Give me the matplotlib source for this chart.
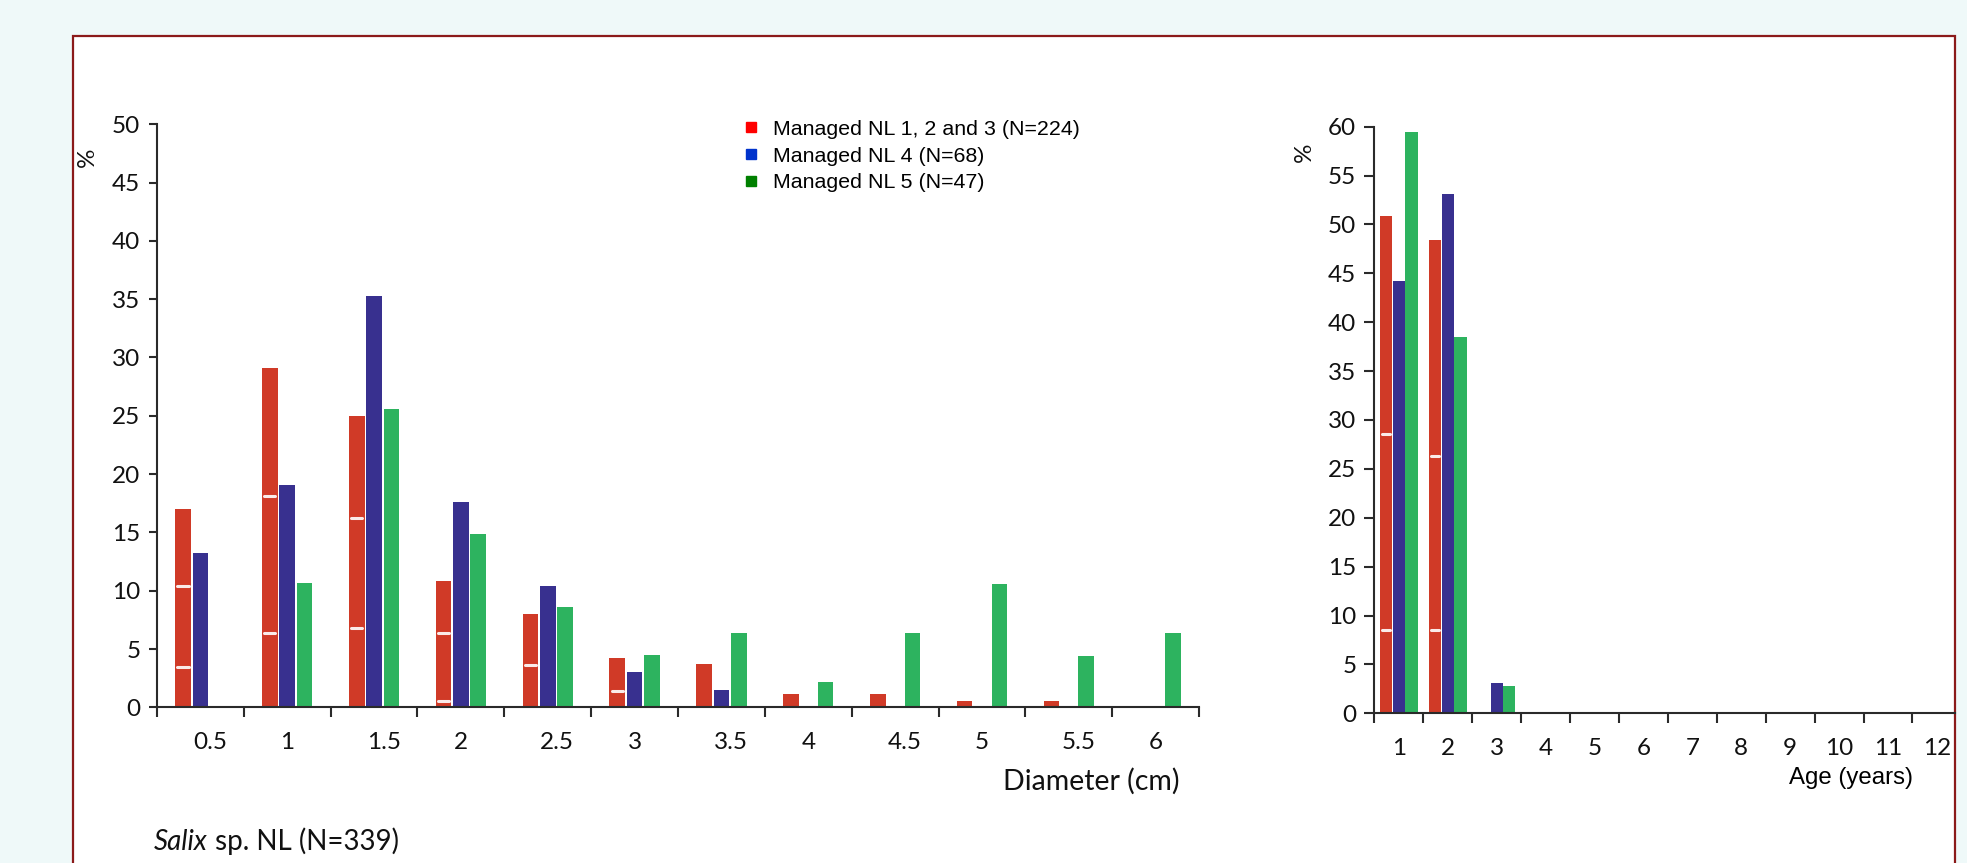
import numpy as np
import matplotlib.pyplot as plt
from matplotlib.lines import Line2D
from matplotlib.patches import Rectangle

plt.rcParams['font.family'] = ['Lato', 'DejaVu Sans']

# stem diameter classes (cm), percent of stems per site group
diam_labels = ["0.5", "1", "1.5", "2", "2.5", "3", "3.5", "4", "4.5", "5", "5.5", "6"]
diam_nl123 = [17.0, 29.1, 25.0, 10.8, 8.0, 4.2, 3.7, 1.1, 1.1, 0.5, 0.5, 0.0]
diam_nl4 = [13.2, 19.1, 35.3, 17.6, 10.4, 3.0, 1.5, 0.0, 0.0, 0.0, 0.0, 0.0]
diam_nl5 = [0.0, 10.7, 25.6, 14.9, 8.6, 4.5, 6.4, 2.2, 6.4, 10.6, 4.4, 6.4]
# cumulative heights where the NL 1 / 2 / 3 parts of the red bar meet
diam_splits = [[3.5, 10.4], [6.4, 18.1], [6.8, 16.2], [0.5, 6.4], [3.6], [1.4],
               [], [], [], [], [], []]

# stem age (years)
age_labels = [str(a) for a in range(1, 13)]
age_nl123 = [50.9, 48.4, 0, 0, 0, 0, 0, 0, 0, 0, 0, 0]
age_nl4 = [44.2, 53.1, 3.1, 0, 0, 0, 0, 0, 0, 0, 0, 0]
age_nl5 = [59.5, 38.5, 2.8, 0, 0, 0, 0, 0, 0, 0, 0, 0]
age_splits = [[8.5, 28.6], [8.5, 26.3], [], [], [], [], [], [], [], [], [], []]

series_names = ["Managed NL 1, 2 and 3 (N=224)", "Managed NL 4 (N=68)", "Managed NL 5 (N=47)"]
bar_colors = ["#d03a27", "#38308f", "#2db35f"]
key_colors = ["#ff0000", "#0033cc", "#008000"]

AXIS_COLOR = "#2a2a2a"
TEXT_COLOR = "#111111"

fig = plt.figure(figsize=(19.67, 8.63), dpi=100, facecolor="#eff9f9")

# white panel with dark red frame
fig.add_artist(Rectangle((0.0371, -0.02), 0.9568, 0.9783, transform=fig.transFigure,
                         facecolor="white", edgecolor="#8b1a1a", lw=1.6, zorder=0))


def draw_panel(ax, centers, groups, splits, pitch, width, ylim, ystep):
    for k, (vals, col) in enumerate(zip(groups, bar_colors)):
        xs = centers + (k - 1) * pitch
        h = np.array(vals, dtype=float)
        ax.bar(xs[h > 0], h[h > 0], width=width, color=col, edgecolor="none", zorder=2)
    # separators inside the red bars
    for c, marks in zip(centers, splits):
        x0 = c - pitch
        for m in marks:
            ax.plot([x0 - width * 0.36, x0 + width * 0.36], [m, m], color="white",
                    lw=2.2, solid_capstyle="round", alpha=0.9, zorder=3)
    ax.set_ylim(*ylim)
    ax.set_yticks(np.arange(ylim[0], ylim[1] + 0.1, ystep))
    ax.spines[["top", "right"]].set_visible(False)
    for s in ("left", "bottom"):
        ax.spines[s].set_color(AXIS_COLOR)
        ax.spines[s].set_linewidth(1.5)
    ax.set_facecolor("none")
    ax.tick_params(axis="both", which="major", direction="out", color=AXIS_COLOR,
                   width=1.5, labelsize=17.5, labelcolor=TEXT_COLOR)
    ax.tick_params(axis="y", length=6, pad=6)
    ax.tick_params(axis="x", which="major", length=7, labelbottom=False)
    ax.tick_params(axis="x", which="minor", length=0, pad=17.5, labelsize=17.5,
                   labelcolor=TEXT_COLOR)


# diameter distribution
ax1 = fig.add_axes([0.0798, 0.1804, 0.5298, 0.6756])
d_centers = np.arange(len(diam_labels), dtype=float)
draw_panel(ax1, d_centers, [diam_nl123, diam_nl4, diam_nl5], diam_splits,
           pitch=0.2, width=0.18, ylim=(0, 50), ystep=5)
ax1.set_xlim(-0.5, len(diam_labels) - 0.5)
ax1.set_xticks(np.arange(-0.5, len(diam_labels)), minor=False)
ax1.set_xticks(d_centers + np.array([0.11 if "." in s else 0 for s in diam_labels]),
               diam_labels, minor=True)
ax1.text(-0.067, 0.944, "%", rotation=90, ha="center", va="center", fontsize=17.5,
         color=TEXT_COLOR, transform=ax1.transAxes)

# age distribution
ax2 = fig.add_axes([0.6987, 0.1735, 0.2952, 0.6797])
a_centers = np.arange(1, len(age_labels) + 1, dtype=float)
draw_panel(ax2, a_centers, [age_nl123, age_nl4, age_nl5], age_splits,
           pitch=0.26, width=0.25, ylim=(0, 60), ystep=5)
ax2.set_xlim(0.5, 12.37)
ax2.set_xticks(np.arange(0.5, 12.0, 1), minor=False)
ax2.set_xticks(a_centers, age_labels, minor=True)
ax2.tick_params(axis="y", length=7)
ax2.tick_params(axis="x", which="minor", pad=18)
ax2.text(-0.121, 0.957, "%", rotation=90, ha="center", va="center", fontsize=17.5,
         color=TEXT_COLOR, transform=ax2.transAxes)

fig.text(0.5994, 0.0942, "Diameter (cm)", ha="right", va="center", fontsize=20.5,
         color=TEXT_COLOR)
fig.text(0.9726, 0.0985, "Age (years)", ha="right", va="center", fontsize=17.3,
         family="Liberation Sans", color="black")

t1 = fig.text(0.0783, 0.0247, "Salix", ha="left", va="center", fontsize=20,
              style="italic", color=TEXT_COLOR)
ax1.annotate(" sp. NL (N=339)", xy=(1, 0.5), xycoords=t1, ha="left", va="center",
             fontsize=20, color=TEXT_COLOR, annotation_clip=False)

handles = [Line2D([], [], ls="none", marker="s", markersize=7, color=c) for c in key_colors]
fig.legend(handles, series_names, loc="upper left", bbox_to_anchor=(0.3762, 0.861),
           frameon=False, borderpad=0, borderaxespad=0, handlelength=1.0,
           handletextpad=0.55, labelspacing=0.36,
           prop={"family": "Liberation Sans", "size": 15.4})

fig.savefig("out.png", dpi=100, facecolor=fig.get_facecolor())
